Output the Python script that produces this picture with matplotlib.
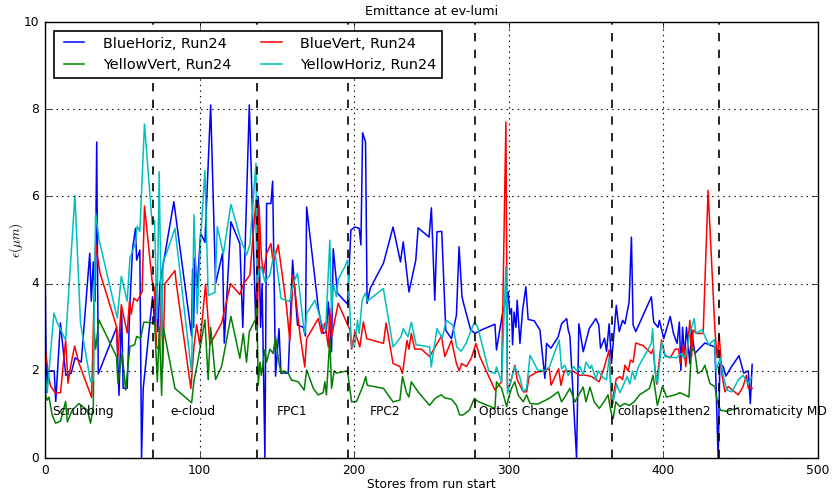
import numpy as np
import matplotlib
matplotlib.use("Agg")
import matplotlib.pyplot as plt

# BlueHoriz, Run24
bh_x = [0, 1, 2, 6, 7, 10, 13.5, 17, 19.5, 23.5, 29, 30, 31.3, 32.5, 33.5, 34.5, 46.4, 47.9, 49.6, 50.6,
        53.2, 55, 56.7, 58.6, 59.3, 61.4, 62.5, 63.6, 69.6, 71, 72, 73, 74.4, 83.4, 94.9, 95.5, 96.2, 97,
        98.5, 100.7, 103.5, 107.2, 110.4, 114.9, 116, 120.3, 126.1, 128, 132.2, 136.5, 138, 139.5, 140.5,
        142.3, 143.4, 146.2, 147.3, 149.2, 151.4, 152.7, 157.4, 160.2, 163.4, 167.1, 168.5, 169.3, 175.7,
        177, 180, 182, 183.3, 185.4, 186.5, 187.6, 189.3, 195.8, 197.9, 200.5, 203.3, 204.4, 205.5, 207.4,
        208.4, 210.5, 219, 225.2, 230, 231.8, 235.5, 239.9, 241.4, 248.5, 250, 252.2, 253.6, 256.7, 259.3,
        263, 266.2, 267.9, 269.8, 270.8, 275.4, 278.2, 283, 291.1, 292.1, 296, 299.7, 300.7, 301.8, 302.5,
        303.5, 304.7, 305.5, 307.3, 309, 311.1, 312.6, 316.5, 320.2, 323.4, 324.5, 327.3, 332, 334.2,
        337.5, 338.5, 339.6, 343.9, 345.4, 348.2, 352.1, 356.4, 358.3, 359.4, 362, 363.3, 365, 366.5,
        369.6, 371.5, 373.7, 375.2, 377.9, 379.4, 380.5, 382.2, 392.3, 393.8, 396.6, 397.5, 400.3, 404.5,
        406.6, 408.9, 410.4, 411.4, 412.5, 413.7, 415, 417.2, 418.3, 420.4, 422.6, 426.9, 433.4, 435.5,
        436.6, 438.8, 440.5, 444.2, 449, 452, 455, 456.3, 457.5]
bh_y = [4.7, 1.5, 2.0, 2.0, 1.3, 3.1, 1.9, 1.95, 2.3, 2.2, 4.7, 3.6, 4.5, 3.6, 7.25, 1.93, 3.0, 1.44, 3.4, 1.6,
        1.6, 3.55, 4.8, 5.27, 4.54, 4.77, 0.0, 1.6, 3.7, 3.1, 4.0, 2.9, 4.0, 5.88, 2.8, 4.33, 3.0, 4.6,
        3.9, 5.16, 4.95, 8.1, 4.0, 4.7, 2.64, 5.42, 4.92, 3.0, 8.1, 2.94, 6.0, 3.0, 4.0,
        0.0, 5.84, 5.84, 6.35, 1.88, 2.97, 1.95, 1.95, 4.54, 3.05, 3.0, 2.8, 5.76, 3.78,
        3.4, 2.86, 2.9, 3.58, 2.44, 4.8, 4.4, 3.78, 3.53, 5.23, 5.3, 5.27, 4.89, 7.46, 7.25,
        3.55, 3.9, 4.47, 5.3, 4.5, 4.96, 3.81, 4.54, 5.28, 5.07, 5.74, 3.62, 5.19, 5.2, 2.93,
        2.74, 3.28, 4.85, 3.7, 3.55, 2.94, 2.86, 2.95, 3.07, 2.48, 3.32, 3.81, 3.3, 3.43, 2.6,
        3.35, 3.0, 3.62, 2.63, 3.39, 3.93, 3.18, 3.15, 2.94, 1.83, 2.63, 2.52, 2.78, 3.08,
        3.2, 2.94, 2.8, 0.0, 3.08, 2.44, 2.97, 3.2, 3.05, 2.52, 2.75, 2.45, 3.08, 2.17,
        3.5, 2.9, 3.16, 3.08, 3.58, 5.07, 3.05, 2.9, 3.7, 3.12, 3.0, 3.16, 2.74, 3.25,
        2.86, 2.63, 3.12, 2.01, 3.0, 2.3, 3.0, 2.17, 2.94, 2.4, 2.48, 2.64, 2.55, 0.0,
        2.17, 2.1, 1.88, 2.1, 2.35, 1.95, 2.0, 1.25, 2.15]

# BlueVert, Run24
bv_x = [0, 2.6, 3.7, 6.9, 10.1, 13.4, 14.9, 16.6, 19.2, 22, 30.2, 31.7, 32.8, 35.6, 46.3, 47.2, 49.4, 53.2,
        54.7, 55.8, 57.5, 59.7, 62.9, 64.4, 69.4, 70.8, 72.2, 74, 75.5, 76.2, 77.6, 84.1, 85, 94.4, 96.4,
        98.1, 100.2, 103.9, 106.7, 114.3, 120.1, 126.1, 128.5, 132.6, 136.5, 137.5, 138.5, 140, 141.4,
        143.4, 146.2, 147.6, 150.9, 156.3, 158.4, 160.6, 164.9, 168.1, 169.3, 176.8, 179, 181.1, 183.3,
        184.3, 185.4, 189.7, 197.3, 198.4, 200.5, 203.7, 206, 208.2, 219, 220.7, 225.2, 229.6, 231.3,
        234.2, 235.5, 237, 239.2, 243.5, 248.8, 253.2, 256.5, 258.7, 263, 266.2, 268, 269.5, 272.7,
        275.9, 278.8, 281.4, 291.1, 295.4, 298.2, 299.2, 301, 304, 305.5, 309.4, 311.6, 313.2, 318.8,
        323.1, 326.3, 327.4, 332.3, 333.8, 336, 341.4, 345.7, 350, 353.6, 358.5, 361.1, 365, 366.5,
        369.6, 371.9, 373.7, 375.2, 377.3, 378.8, 380.5, 382.2, 387, 392.3, 393.4, 395.7, 398.9, 401.1,
        404.5, 407.7, 409.9, 411, 413.1, 414.6, 417.2, 418.3, 419.3, 421.5, 425.8, 429, 433.4, 434.9,
        436.2, 438, 439.9, 442, 448.5, 451.6, 453.8, 455, 457.5]
bv_y = [2.55, 1.83, 1.65, 1.49, 1.5, 2.71, 1.72, 2.1, 2.57, 2.18, 1.39, 3.55, 4.9, 4.25, 3.02, 2.33, 3.52, 2.87,
        3.6, 3.3, 3.67, 3.6, 3.82, 5.78, 4.05, 3.9, 2.55, 2.5, 3.99, 2.06, 4.0, 4.3, 4.0, 1.6, 2.55,
        3.06, 2.6, 3.99, 2.6, 3.1, 4.0, 3.75, 4.0, 4.2, 5.92, 3.0, 5.8, 4.62, 4.23,
        4.69, 4.92, 4.47, 4.89, 3.47, 2.7, 4.2, 2.86, 2.09, 2.74, 3.2, 2.86, 3.1, 2.55,
        3.43, 2.78, 3.55, 2.94, 2.5, 2.9, 2.55, 3.12, 2.74, 2.63, 3.1, 2.17, 2.1, 1.94,
        2.7, 2.5, 2.86, 2.5, 2.5, 2.33, 2.6, 2.8, 2.33, 2.7, 2.17, 2.0, 2.17, 2.1,
        2.3, 2.63, 2.32, 1.56, 1.75, 7.71, 1.6, 1.7, 2.13, 1.8, 1.52, 1.52, 1.87, 1.98,
        2.0, 2.05, 1.67, 2.05, 1.67, 2.0, 2.0, 1.9, 1.9, 1.87, 1.75, 2.0, 2.48, 1.21,
        1.82, 1.87, 1.8, 2.13, 2.0, 2.25, 2.2, 2.64, 2.58, 2.4, 2.5, 1.7, 2.71, 2.36,
        2.3, 2.5, 2.5, 2.17, 2.6, 2.1, 3.16, 2.33, 2.94, 2.86, 2.86, 6.14, 2.94, 2.3,
        2.82, 1.9, 1.52, 1.64, 1.45, 1.64, 1.9, 1.6, 1.6]

# YellowVert, Run24
yv_x = [0, 1.5, 2.6, 4.7, 6.9, 10.1, 13.4, 14.5, 17.7, 22, 27.4, 29.5, 31.3, 31.7, 32.8, 34.9, 46.3, 47.2,
        50, 52.2, 55, 58, 59.3, 61.9, 64, 69.4, 71, 72.7, 74, 75.5, 76.5, 84.1, 94.9, 96.4, 98.8, 103.5,
        105.6, 107.2, 110.4, 114.3, 120.3, 126.1, 128.3, 130.4, 132.2, 136.5, 137, 138, 139.1, 140, 142.3,
        143.4, 145.5, 147.6, 149.2, 150.9, 152.7, 154.2, 157.4, 159.5, 163.8, 167.7, 169.3, 173.6, 176.7,
        180, 181.1, 182.1, 184.3, 185.4, 187.1, 188.6, 195.7, 198.4, 201.6, 203.7, 205.9, 207.5, 208.5,
        219, 225.2, 229.6, 231.3, 233.9, 235.5, 237, 241.4, 248.8, 252, 253.6, 256.5, 258.7, 263, 266.2,
        268.3, 270.5, 274.6, 277.8, 280, 291.1, 292.1, 295.4, 298.7, 299.7, 301.8, 303.9, 306.1, 309.4,
        311.6, 313.8, 318.8, 326.3, 332, 334.2, 336.3, 339.6, 342.9, 346.1, 348.2, 350, 352.6, 355.3,
        358.6, 361.8, 364.3, 365.4, 366.9, 367.6, 369.3, 371.9, 374.9, 378.1, 381.4, 384.6, 391.1, 393.4,
        396.2, 399.5, 402.1, 407.5, 410.7, 414, 416.6, 418.3, 420.4, 422.3, 425.1, 426.9, 430.2, 433.4,
        435, 437, 441.2, 443.3, 448.5]
yv_y = [1.49, 1.33, 1.4, 0.99, 0.8, 0.85, 1.3, 0.83, 1.1, 1.25, 1.1, 0.8, 1.2, 3.0, 2.5, 3.17, 2.33, 1.72,
        2.4, 1.56, 2.56, 2.6, 2.79, 2.75, 3.12, 3.1, 3.1, 1.75, 3.0, 1.44, 3.01, 1.6, 1.27, 1.77, 2.2, 3.17,
        1.8, 3.0, 1.8, 2.1, 3.25, 2.29, 2.86, 2.2, 2.9, 3.2, 3.6, 1.67, 2.2, 1.9, 2.48,
        2.2, 2.5, 2.4, 2.78, 2.3, 1.94, 2.0, 1.95, 1.79, 1.75, 1.56, 2.02, 1.6, 1.45,
        1.5, 1.75, 1.45, 2.74, 1.6, 2.0, 1.95, 2.0, 1.29, 1.3, 1.48, 1.67, 1.87, 1.67,
        1.6, 1.29, 1.33, 1.87, 1.5, 1.4, 1.75, 1.52, 1.21, 1.35, 1.4, 1.45, 1.38, 1.35, 1.21,
        0.99, 0.99, 1.1, 1.37, 1.3, 1.14, 1.75, 1.6, 1.18, 1.35, 1.6, 1.75, 1.45, 1.29,
        1.45, 1.25, 1.24, 1.37, 1.52, 1.29, 1.4, 1.6, 1.29, 1.5, 1.63, 1.29, 1.63, 1.29,
        1.14, 1.3, 1.45, 1.21, 0.95, 0.91, 1.29, 1.18, 1.25, 1.21, 1.3, 1.45, 1.6, 1.9,
        1.21, 1.65, 1.4, 1.45, 1.5, 1.45, 1.4, 2.52, 2.45, 1.94, 2.0, 2.13, 1.71, 1.64,
        1.29, 1.1, 1.07, 1.1, 1.15]

# YellowHoriz, Run24
yh_x = [0, 1.5, 5.8, 8, 13.4, 19.4, 23, 29.5, 31.3, 32.8, 35, 46.8, 49.4, 53.2, 55, 58.6, 59.7, 61.4, 64.4,
        69.4, 70.9, 72.5, 73.9, 75.5, 76.5, 78.5, 84.1, 94.9, 96.4, 98.5, 100.9, 103.5, 105.6, 110, 111.5,
        115.4, 120.3, 126.1, 130.4, 132.6, 136.5, 137.3, 138.5, 140, 142.3, 145.5, 148.7, 152.7, 158.4,
        160.6, 163.4, 167.1, 168.1, 169.3, 174.7, 179, 181.6, 184.3, 185.4, 186.5, 188.6, 189.7, 194,
        195.7, 198.4, 200.5, 202.2, 203.3, 205.2, 207.3, 208.6, 218.9, 225.2, 230.3, 231.8, 234.9, 237,
        240.1, 248.8, 249.9, 253.6, 257, 259.6, 263.9, 266.4, 269.2, 272.4, 277.8, 280, 287.1, 291.1,
        292.1, 295.4, 298.2, 299.2, 301.8, 303.9, 307.1, 309.4, 311.6, 313.8, 318.8, 323.1, 326.3, 332.7,
        334.2, 336.3, 338.5, 341.9, 344, 346.1, 348.2, 350, 352.6, 353.6, 356.4, 357.9, 360.9, 363.3,
        365, 366.5, 367.5, 369.8, 371.9, 374.6, 376.7, 378.3, 380.1, 381.6, 383.8, 392.3, 393.1, 394.6,
        396.3, 397.8, 399, 401.1, 408.6, 411.8, 413.3, 415.2, 416.9, 419, 420, 421.1, 425.1, 429.4,
        433.2, 434.1, 436.8, 438.9, 441.2, 444.4, 448.5, 451.6, 454.9, 457]
yh_y = [2.0, 1.5, 3.33, 3.1, 2.71, 6.02, 3.1, 1.75, 1.8, 5.62, 5.01, 3.21, 4.17, 3.6, 4.59, 4.93, 5.32, 5.2, 7.66,
        5.36, 5.45, 3.2, 6.57, 2.8, 4.53, 4.68, 5.27, 1.95, 5.58, 3.31, 5.13, 6.6, 3.73, 3.8, 5.31,
        4.68, 5.82, 5.08, 4.66, 4.9, 6.76, 4.0, 4.3, 4.39, 4.04, 4.2, 4.77, 3.66, 3.59,
        4.0, 4.24, 3.09, 2.86, 3.32, 3.62, 3.09, 2.94, 5.0, 3.32, 4.0, 3.7, 4.1, 4.39,
        4.54, 2.55, 2.6, 3.16, 2.86, 3.62, 3.78, 3.6, 3.89, 2.55, 2.78, 2.97, 2.78, 3.12,
        2.6, 2.55, 2.09, 2.97, 2.75, 3.16, 3.05, 2.55, 2.45, 2.63, 3.12, 3.0, 2.0, 1.94,
        2.09, 1.75, 4.39, 1.48, 1.83, 2.09, 1.87, 1.52, 1.6, 2.36, 2.02, 2.0, 2.09, 2.71,
        2.05, 2.13, 1.9, 2.1, 2.0, 2.1, 1.9, 2.2, 2.05, 2.13, 1.8, 2.0, 1.85, 1.8,
        2.3, 1.45, 1.25, 1.7, 1.5, 1.71, 1.87, 1.7, 2.0, 1.8, 2.09, 2.63, 2.97, 2.0,
        1.7, 2.25, 2.67, 2.33, 2.3, 2.4, 2.3, 2.4, 2.82, 3.08, 3.2, 2.86, 2.94, 2.6,
        2.72, 2.0, 2.3, 1.87, 1.56, 1.52, 1.79, 1.9, 1.7, 1.85]

# period boundaries and their labels
period_starts = [70, 137.5, 196, 278, 367, 436]
label_x = [4.5, 81, 150, 210, 281, 370, 440.5]
label_text = ["Scrubbing", "e-cloud", "FPC1", "FPC2", "Optics Change", "collapse1then2", "chromaticity MD"]

plt.style.use("classic")
plt.rcParams["font.size"] = 8.8
plt.rcParams["savefig.facecolor"] = "white"

fig = plt.figure(figsize=(8.32, 4.91), facecolor="white")
ax = fig.add_axes([0.054, 0.067, 0.929, 0.888])

l1, = ax.plot(bh_x, bh_y, "b-", lw=1.1, label="BlueHoriz, Run24")
l2, = ax.plot(bv_x, bv_y, "r-", lw=1.1, label="BlueVert, Run24")
l3, = ax.plot(yv_x, yv_y, "g-", lw=1.1, label="YellowVert, Run24")
l4, = ax.plot(yh_x, yh_y, "c-", lw=1.1, label="YellowHoriz, Run24")

for xs in period_starts:
    ax.axvline(xs, color="k", ls="--", lw=1.2)
for xt, txt in zip(label_x, label_text):
    ax.text(xt, 1.0, txt, fontsize=8.8)

ax.set_xlim(0, 500)
ax.set_ylim(0, 10)
ax.grid(True, color="k", ls=":", lw=0.8)
ax.set_title("Emittance at ev-lumi", fontsize=9.2)
ax.set_xlabel("Stores from run start", fontsize=8.8, labelpad=1)
ax.set_ylabel(r"$\epsilon (\mu m)$", fontsize=9.5)
ax.yaxis.set_label_coords(-0.026, 0.5)
leg = ax.legend(handles=[l1, l3, l2, l4], loc="upper left", ncol=2, fontsize=10.4, fancybox=False,
                handletextpad=1.0, columnspacing=1.8, borderaxespad=0.6)
leg.get_frame().set_linewidth(1.2)

fig.savefig("out.png", dpi=100, facecolor="white")
